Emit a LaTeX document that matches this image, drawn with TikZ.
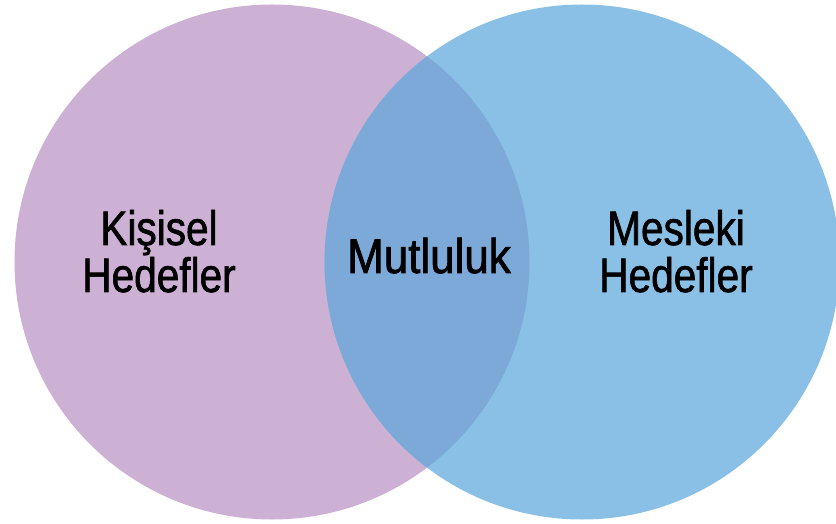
\documentclass[tikz,border=0pt]{standalone}
\usepackage{fontspec}
\setmainfont[FakeStretch=0.84,FakeBold=1.3]{Liberation Sans}
\newfontfamily\midfont[FakeStretch=0.9,FakeBold=1.5]{Liberation Sans}
\definecolor{lpurple}{HTML}{CCB1D4}
\definecolor{lblue}{HTML}{8BC0E6}
\definecolor{lmix}{HTML}{7CA9D8}
\begin{document}
\begin{tikzpicture}[x=1bp,y=-1bp,
  lbl/.style={font=\fontsize{48.5}{47}\selectfont, align=center, text=black, inner sep=0pt, anchor=base}]
\useasboundingbox (0,0) rectangle (836,524);
\fill[lpurple] (272,262) circle[radius=257.5];
\fill[lblue] (582,262) circle[radius=257.5];
\begin{scope}
\clip (272,262) circle[radius=257.5];
\fill[lmix] (582,262) circle[radius=257.5];
\end{scope}
\node[lbl] (k1) at (159,245) {Kişisel};
\node[lbl] (k2) at (159,292) {Hedefler};
\node[lbl, font=\midfont\fontsize{49}{47}\selectfont] (m) at (429,273) {Mutluluk};
\node[lbl] (p1) at (676,245) {Mesleki};
\node[lbl] (p2) at (676,292) {Hedefler};
\end{tikzpicture}
\end{document}
